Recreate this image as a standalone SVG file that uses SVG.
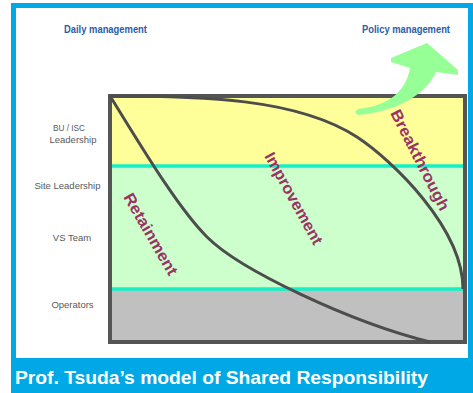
<svg xmlns="http://www.w3.org/2000/svg" width="473" height="393" viewBox="0 0 473 393">
<style>
.hdr{font-family:"Liberation Sans",Arial,sans-serif;font-weight:bold;font-size:10.5px;fill:#2A5DA8}
.lvl{font-family:"Liberation Sans",Arial,sans-serif;font-size:9.5px;fill:#595959;text-anchor:middle}
.zone{font-family:"Liberation Sans",Arial,sans-serif;font-weight:bold;font-size:16px;fill:#993366}
.curve{fill:none;stroke:#4D4D4D;stroke-width:3}
.band{stroke:#14F0C8;stroke-width:3.5}
</style>
<rect x="0" y="0" width="473" height="393" fill="#FFFFFF"/>
<g id="frame">
<path d="M11,3 H473 V393 H11 Z M16,8 V358 H468 V8 Z" fill="#00A9E6" fill-rule="evenodd"/>
<text x="15" y="384" font-family="Liberation Sans,Arial,sans-serif" font-weight="bold" font-size="19" fill="#FFFFFF" textLength="413" lengthAdjust="spacingAndGlyphs">Prof. Tsuda’s model of Shared Responsibility</text>
</g>
<g id="headers">
<text class="hdr" x="64" y="33" textLength="83" lengthAdjust="spacingAndGlyphs">Daily management</text>
<text class="hdr" x="362" y="33" textLength="88" lengthAdjust="spacingAndGlyphs">Policy management</text>
</g>
<g id="levels">
<text class="lvl" x="69" y="131" textLength="32" lengthAdjust="spacingAndGlyphs">BU / ISC</text>
<text class="lvl" x="73" y="143">Leadership</text>
<text class="lvl" x="67.5" y="189">Site Leadership</text>
<text class="lvl" x="72" y="241">VS Team</text>
<text class="lvl" x="72.5" y="308">Operators</text>
</g>
<g id="chart">
<rect x="110" y="96" width="355" height="70" fill="#FFFF99"/>
<rect x="110" y="166" width="355" height="123" fill="#CCFFCC"/>
<rect x="110" y="289" width="355" height="53" fill="#C0C0C0"/>
<line class="band" x1="108" y1="166" x2="466" y2="166"/>
<line class="band" x1="108" y1="289" x2="466" y2="289"/>
<rect x="110" y="96" width="355" height="246" fill="none" stroke="#555555" stroke-width="4"/>
</g>
<g id="connectors">
<path class="curve" d="M110,96 C140,144 177,207 207,237 C240,270 350,322 430,342"/>
<path class="curve" d="M110,96 C200,96 297,98 357,137 C392,160 463,228 463,289"/>
</g>
<g id="labels">
<text class="zone" transform="translate(123,197) rotate(60)" textLength="92" lengthAdjust="spacingAndGlyphs">Retainment</text>
<text class="zone" transform="translate(264,156) rotate(61)" textLength="103" lengthAdjust="spacingAndGlyphs">Improvement</text>
<text class="zone" transform="translate(390,113) rotate(63)" textLength="111" lengthAdjust="spacingAndGlyphs">Breakthrough</text>
</g>
<g id="arrow">
<path d="M410,68 L391,62 L391,58 L427,43 L458,70 L458,75 L436,72 C428,90 405,110 358,115 Q353,112 358,109 C385,106 405,95 410,68 Z" fill="#96FF96"/>
</g>
</svg>
